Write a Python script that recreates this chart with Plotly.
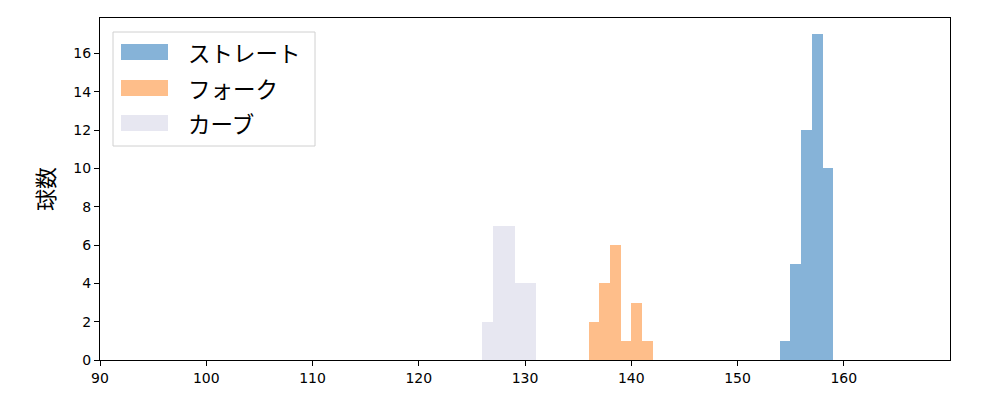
import plotly.graph_objects as go

# Data: histogram bins (left edge, width 1) and counts
straight_bins = [154, 155, 156, 157, 158]
straight_counts = [1, 5, 12, 17, 10]
fork_bins = [136, 137, 138, 139, 140, 141]
fork_counts = [2, 4, 6, 1, 3, 1]
curve_bins = [126, 127, 128, 129, 130]
curve_counts = [2, 7, 7, 4, 4]

series_names = ["ストレート", "フォーク", "カーブ"]
series_colors = ["rgb(134,179,216)", "rgb(254,190,138)", "rgb(231,231,241)"]
x_ticks = [90, 100, 110, 120, 130, 140, 150, 160]
y_ticks = [0, 2, 4, 6, 8, 10, 12, 14, 16]
bin_width = 1

fig = go.Figure()
for name, bins, counts, color in zip(
    series_names,
    [straight_bins, fork_bins, curve_bins],
    [straight_counts, fork_counts, curve_counts],
    series_colors,
):
    fig.add_trace(go.Bar(
        x=[b + bin_width / 2 for b in bins],
        y=counts,
        width=bin_width * 1.04,
        name=name,
        marker=dict(color=color, line=dict(width=0)),
        showlegend=False,
    ))

# Target plot area in screen pixels (page adds an 8px offset)
OFF = 8
L, R, T, B = 100, 950, 18, 360
W, H = 1000, 400
def px(x):
    return (x - L) / (R - L)
def py(y):
    return (B - y) / (B - T)

shapes = [dict(type="rect", xref="paper", yref="paper",
               x0=px(113), x1=px(315), y0=py(146), y1=py(32),
               line=dict(color="#d0d0d0", width=1), fillcolor="rgba(255,255,255,0.8)", layer="above")]
annotations = []
rows_y = [52, 88, 123]
for name, color, yc in zip(series_names, series_colors, rows_y):
    shapes.append(dict(type="rect", xref="paper", yref="paper",
                       x0=px(121), x1=px(168), y0=py(yc + 8), y1=py(yc - 8),
                       line=dict(width=0), fillcolor=color, layer="above"))
    annotations.append(dict(xref="paper", yref="paper", x=px(186), y=py(yc),
                            text=name, showarrow=False, xanchor="left", yanchor="middle",
                            font=dict(size=22.5, color="black", family="Noto Sans CJK JP")))

fig.update_layout(
    width=W, height=H,
    margin=dict(l=L - OFF, r=W - R + OFF, t=T - OFF, b=H - B + OFF, autoexpand=False),
    paper_bgcolor="white", plot_bgcolor="white",
    barmode="overlay",
    bargap=0,
    shapes=shapes,
    annotations=annotations,
    font=dict(family="DejaVu Sans", color="black"),
)
fig.update_xaxes(range=[90, 170], tickvals=x_ticks, ticks="outside", ticklen=5, tickwidth=1.2,
                 tickcolor="black", showline=True, linecolor="black", linewidth=1.2, mirror=True,
                 showgrid=False, zeroline=False, tickfont=dict(size=14, family="DejaVu Sans"))
fig.update_yaxes(range=[0, 17.85], tickvals=y_ticks, ticks="outside", ticklen=5, tickwidth=1.2,
                 tickcolor="black", showline=True, linecolor="black", linewidth=1.2, mirror=True,
                 showgrid=False, zeroline=False, tickfont=dict(size=14, family="DejaVu Sans"),
                 title=dict(text="球数", font=dict(size=22, family="Noto Sans CJK JP"), standoff=12))

fig.write_html("out.html")
